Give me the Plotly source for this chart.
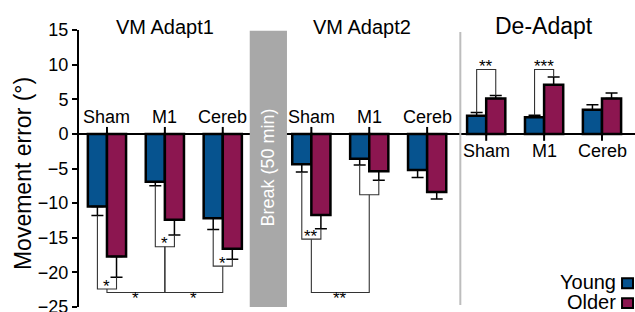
import plotly.graph_objects as go

# ---------------- data ----------------
phases = ["VM Adapt1", "VM Adapt2", "De-Adapt"]
categories = ["Sham", "M1", "Cereb"]

young_adapt1 = [-10.5, -6.9, -12.2]
young_adapt2 = [-4.4, -3.6, -5.2]
young_deadapt = [2.6, 2.4, 3.5]
older_adapt1 = [-17.7, -12.4, -16.6]
older_adapt2 = [-11.7, -5.4, -8.4]
older_deadapt = [5.1, 7.1, 5.1]

young_sem_adapt1 = [1.3, 0.6, 1.6]
young_sem_adapt2 = [1.1, 0.9, 1.1]
young_sem_deadapt = [0.5, 0.3, 0.7]
older_sem_adapt1 = [3.0, 2.2, 1.5]
older_sem_adapt2 = [2.0, 1.3, 1.0]
older_sem_deadapt = [0.45, 1.1, 0.8]

y_ticks = [-25, -20, -15, -10, -5, 0, 5, 10, 15]

# significance: within-category (phase, category, bracket level, label)
within_sig = [(0, 0, -22.4, "*"), (0, 1, -16.3, "*"), (0, 2, -19.1, "*"),
              (1, 0, -15.2, "**"), (1, 1, -8.8, ""),
              (2, 0, 9.3, "**"), (2, 1, 9.3, "***")]
# between-category (phase, cat a, cat b, level, label)
between_sig = [(0, 0, 1, -22.9, "*"), (0, 1, 2, -22.9, "*"), (1, 0, 1, -22.9, "**")]

# ---------------- layout helpers ----------------
young = [young_adapt1, young_adapt2, young_deadapt]
older = [older_adapt1, older_adapt2, older_deadapt]
young_sem = [young_sem_adapt1, young_sem_adapt2, young_sem_deadapt]
older_sem = [older_sem_adapt1, older_sem_adapt2, older_sem_deadapt]

phase_offset = [0.0, 3.53, 6.55]
bar_w = 0.33
BLUE = "#06538f"
MAROON = "#8c1650"
FONT = "Liberation Sans, Arial, Helvetica, sans-serif"


def cat_x(p, c):
    return phase_offset[p] + c


def bar_x(p, c, grp):
    return cat_x(p, c) + (-bar_w / 2 if grp == 0 else bar_w / 2)


def tip(p, c, grp):
    m = (young if grp == 0 else older)[p][c]
    s = (young_sem if grp == 0 else older_sem)[p][c]
    return m - s if m < 0 else m + s


fig = go.Figure()

for grp, (vals, sems, col, name) in enumerate([(young, young_sem, BLUE, "Young"),
                                                (older, older_sem, MAROON, "Older")]):
    xs, ys, ep, em = [], [], [], []
    for p in range(3):
        for c in range(3):
            v = vals[p][c]
            xs.append(bar_x(p, c, grp))
            ys.append(v)
            ep.append(sems[p][c] if v > 0 else 0)
            em.append(sems[p][c] if v < 0 else 0)
    fig.add_trace(go.Bar(
        x=xs, y=ys, width=bar_w, name=name, showlegend=False,
        marker=dict(color=col, line=dict(color="black", width=2.5)),
        error_y=dict(type="data", symmetric=False, array=ep, arrayminus=em,
                     color="black", thickness=1.5, width=6),
    ))

# significance brackets
bx, by = [], []
for p, c, lvl, lab in within_sig:
    x0, x1 = bar_x(p, c, 0), bar_x(p, c, 1)
    bx += [x0, x0, x1, x1, None]
    by += [tip(p, c, 0), lvl, lvl, tip(p, c, 1), None]
    if lab:
        fig.add_annotation(x=cat_x(p, c), y=lvl, text=lab, showarrow=False,
                           yanchor="middle", yshift=3,
                           font=dict(family=FONT, size=17, color="black"))
wlev = {(p, c): lvl for p, c, lvl, _ in within_sig}
for p, a, b, lvl, lab in between_sig:
    xa, xb = cat_x(p, a), cat_x(p, b)
    bx += [xa, xa, xb, xb, None]
    by += [wlev[(p, a)], lvl, lvl, wlev[(p, b)], None]
    fig.add_annotation(x=(xa + xb) / 2, y=lvl, text=lab, showarrow=False,
                       yanchor="middle", yshift=-6,
                       font=dict(family=FONT, size=17, color="black"))
fig.add_trace(go.Scatter(x=bx, y=by, mode="lines", showlegend=False,
                         line=dict(color="#333333", width=1.1), hoverinfo="skip"))

# category ticks and labels
for p in range(3):
    sign = 1 if p < 2 else -1
    for c, cat in enumerate(categories):
        fig.add_shape(type="line", x0=cat_x(p, c), x1=cat_x(p, c), y0=0, y1=sign * 1.0,
                      xref="x", yref="y", line=dict(color="black", width=2))
        fig.add_annotation(x=cat_x(p, c), y=0, text=cat, showarrow=False,
                           yanchor="middle", yshift=sign * 17,
                           font=dict(family=FONT, size=18, color="black"))

# phase titles
title_x = [cat_x(0, 1), cat_x(1, 1) - 0.12, cat_x(2, 1)]
title_size = [20, 20, 23]
title_shift = [3, 3, 4]
for p, t in enumerate(phases):
    fig.add_annotation(x=title_x[p], y=1, xref="x", yref="paper", text=t, showarrow=False,
                       yanchor="middle", yshift=title_shift[p],
                       font=dict(family=FONT, size=title_size[p], color="black"))

# break bar
fig.add_shape(type="rect", x0=2.466, x1=3.109, y0=-25, y1=14.9, xref="x", yref="y",
              fillcolor="#a8a8a8", line=dict(width=0), layer="above")
fig.add_annotation(x=(2.466 + 3.109) / 2, y=-4.8, text="Break (50 min)", textangle=-90,
                   showarrow=False, font=dict(family=FONT, size=18, color="white"))

# divider
fig.add_shape(type="line", x0=6.103, x1=6.103, y0=-24.7, y1=14.7, xref="x", yref="y",
              line=dict(color="#bdbdbd", width=2))

# y-axis title
fig.add_annotation(x=0, y=0.48, xref="paper", yref="paper", xshift=-56,
                   xanchor="center", yanchor="middle",
                   text="Movement error (°)", textangle=-90, showarrow=False,
                   font=dict(family=FONT, size=23, color="black"))

# legend
for i, (name, col) in enumerate([("Young", BLUE), ("Older", MAROON)]):
    yc = 0.086 - i * 0.072
    fig.add_annotation(x=1, y=yc, xref="paper", yref="paper", xanchor="right",
                       yanchor="middle", xshift=-17, yshift=1, text=name, showarrow=False,
                       font=dict(family=FONT, size=20, color="black"))
    fig.add_shape(type="rect", xref="paper", yref="paper",
                  x0=0.9767, x1=0.9964, y0=yc - 0.018, y1=yc + 0.018,
                  fillcolor=col, line=dict(color="black", width=2))

fig.update_layout(
    width=635, height=312,
    margin=dict(l=79, r=0, t=30, b=5, autoexpand=False),
    plot_bgcolor="white", paper_bgcolor="white",
    barmode="overlay",
    xaxis=dict(range=[-0.483, 9.12], visible=False, automargin=False),
    yaxis=dict(range=[-25, 15], tickvals=y_ticks, ticks="outside", ticklen=5,
               tickwidth=2, tickcolor="black", showline=True, linewidth=2,
               linecolor="black", showgrid=False, zeroline=True, zerolinecolor="black",
               zerolinewidth=2, ticklabeloverflow="allow", automargin=False,
               tickfont=dict(family=FONT, size=18, color="black")),
    font=dict(family=FONT),
)

fig.write_html("out.html", config={"displayModeBar": False},
               post_script="document.body.style.margin='0';document.body.style.overflow='hidden';")
